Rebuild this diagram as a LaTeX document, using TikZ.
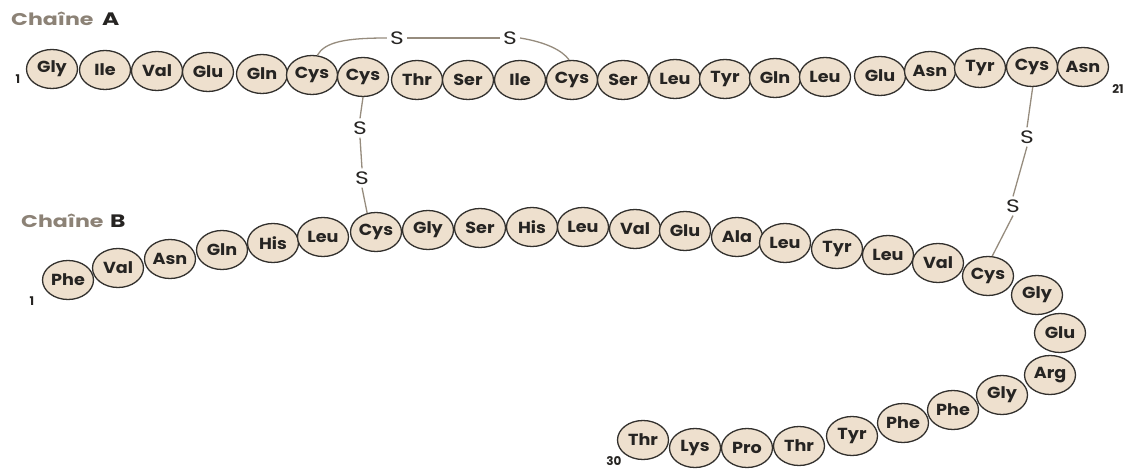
\documentclass[tikz,border=0pt]{standalone}
\usepackage{fontspec}
\setmainfont{Poppins}
\usetikzlibrary{shapes.geometric}
\definecolor{beige}{RGB}{238,224,206}
\definecolor{rim}{RGB}{50,48,45}
\definecolor{ink}{RGB}{38,36,34}
\definecolor{bondc}{RGB}{150,140,126}
\definecolor{titc}{RGB}{140,130,118}
\newcommand{\widetext}[2][1.1]{\scalebox{#1}[1]{#2}}
\tikzset{
  aa/.style={ellipse, draw=rim, fill=beige, line width=1.3pt, minimum width=51pt, minimum height=39pt, inner sep=0pt, text=ink, font=\fontsize{16}{16}\selectfont\bfseries},
  sulf/.style={text=ink, font=\fontsize{18}{18}\selectfont, inner sep=3pt},
  bond/.style={draw=bondc, line width=1.3pt},
  num/.style={text=ink, font=\fontsize{12}{12}\selectfont\bfseries, inner sep=0pt},
  tit/.style={anchor=base west, inner sep=0pt, text=titc, font=\fontsize{17}{17}\selectfont\bfseries},
  titl/.style={anchor=base west, inner sep=0pt, text=ink, font=\fontsize{18}{18}\selectfont\bfseries},
}
\begin{document}
\begin{tikzpicture}[x=1pt,y=1pt]
\useasboundingbox (0,0) rectangle (1132,-470);
% Chain A
\foreach \t/\x/\y [count=\i] in {Gly/52/69, Ile/105/70, Val/157/71, Glu/208/72, Gln/262/74, Cys/312/75, Cys/363/77, Thr/417/80, Ser/468/80, Ile/520/80, Cys/572/80, Ser/623/80, Leu/675/79, Tyr/725/79, Gln/775/78, Leu/825/77, Glu/880/76, Asn/930/71, Tyr/980/68, Cys/1032/67, Asn/1083/67}
  {\node[aa] (a\i) at (\x,-\y) {\widetext{\t}};}
% Chain B
\foreach \t/\x/\y [count=\i] in {Phe/68/280, Val/118/268, Asn/170/259, Gln/222/250, His/273/243, Leu/323/237, Cys/376/232, Gly/428/230, Ser/480/228, His/532/227, Leu/583/227, Val/635/229, Glu/685/231, Ala/737/237, Leu/785/243, Tyr/837/249, Leu/888/255, Val/938/263, Cys/988/276, Gly/1037/295, Glu/1060/333, Arg/1050/375, Gly/1002/395, Phe/953/410, Phe/903/423, Tyr/852/436, Thr/799/446, Pro/747/448, Lys/695/448, Thr/643/440}
  {\node[aa] (b\i) at (\x,-\y) {\widetext{\t}};}
% titles
\node[tit] (tA) at (11,-26) {\widetext[1.3]{Chaîne}};
\node[titl] (tAl) at (102,-26) {\widetext[1.3]{A}};
\node[tit] (tB) at (21,-228) {\widetext[1.3]{Chaîne}};
\node[titl] (tBl) at (110,-228) {\widetext[1.3]{B}};
% numbers
\node[num] (nA1) at (18,-79) {1};
\node[num] (nA21) at (1118,-89) {21};
\node[num] (nB1) at (32,-301) {1};
\node[num] (nB30) at (614,-461) {30};
% sulfur atoms
\node[sulf] (s1) at (397,-38) {\widetext[1.3]{S}};
\node[sulf] (s2) at (510,-38) {\widetext[1.3]{S}};
\node[sulf] (s3) at (360,-128) {\widetext[1.3]{S}};
\node[sulf] (s4) at (362,-178) {\widetext[1.3]{S}};
\node[sulf] (s5) at (1027,-137) {\widetext[1.3]{S}};
\node[sulf] (s6) at (1013,-206) {\widetext[1.3]{S}};
% bonds
\draw[bond] (a6.75) .. controls (325,-42) and (345,-38) .. (s1.west);
\draw[bond] (s1.east) -- (s2.west);
\draw[bond] (s2.east) .. controls (545,-42) and (562,-50) .. (a11.98);
\draw[bond] (a7.270) -- (s3.north);
\draw[bond] (s3.south) -- (s4.north);
\draw[bond] (s4.south) -- (b7.115);
\draw[bond] (a20.272) -- (s5.north);
\draw[bond] (s5.south) -- (s6.north);
\draw[bond] (s6.south) -- (b19.78);
\end{tikzpicture}
\end{document}
